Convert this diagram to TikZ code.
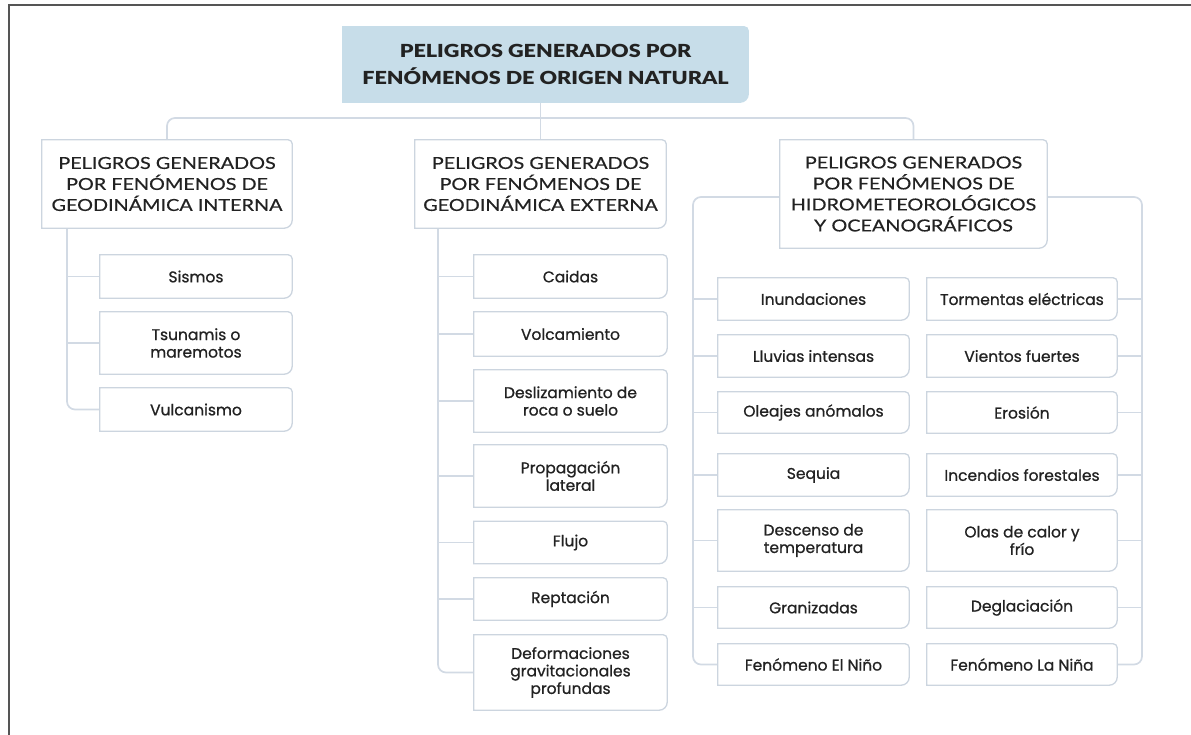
\documentclass[tikz,border=0pt]{standalone}
\usepackage{fontspec}
\setmainfont{Poppins}[FakeBold=0.8]
\newfontfamily\headfont{Lato}[FakeStretch=1.2,FakeBold=0.5]
\newfontfamily\titlefont{Lato Black}[FakeStretch=1.2]
\usetikzlibrary{backgrounds}
\definecolor{bordercol}{RGB}{204,213,223}
\definecolor{linecol}{RGB}{210,218,228}
\definecolor{titlefill}{RGB}{199,221,233}
\definecolor{txtcol}{RGB}{34,34,34}
\definecolor{framecol}{RGB}{85,85,85}
\newcommand\mybframe[3]{%
  \filldraw[draw=#2, fill=#1, line width=1.3pt] (#3.north west) -- ([xshift=-4pt]#3.north east)
    arc[start angle=90,end angle=0,radius=4pt] -- ([yshift=8pt]#3.south east)
    arc[start angle=0,end angle=-90,radius=8pt] -- (#3.south west) -- cycle;}
\begin{document}
\begin{tikzpicture}[x=1pt,y=-1pt,
  ttl/.style={inner sep=0pt, align=center, text=txtcol, font=\titlefont\fontsize{18}{27}\selectfont},
  head/.style={inner sep=0pt, align=center, text=txtcol, font=\headfont\fontsize{16.5}{21}\selectfont},
  leaf/.style={inner sep=0pt, align=center, text=txtcol, font=\fontsize{15.5}{17.5}\selectfont},
  conn/.style={draw=linecol, line width=1.7pt, rounded corners=8pt}]
\useasboundingbox (0,0) rectangle (1191,735);
\draw[framecol, line width=2pt] (9,735) -- (9,5.5) -- (1191,5.5);

% title and level 2
\node[ttl, minimum width=405, minimum height=75] (title) at (545.5,64.5) {PELIGROS GENERADOS POR\\FENÓMENOS DE ORIGEN NATURAL};
\node[head, minimum width=250, minimum height=88] (gi) at (167,184) {PELIGROS GENERADOS\\POR FENÓMENOS DE\\GEODINÁMICA INTERNA};
\node[head, minimum width=251, minimum height=88] (ge) at (540.5,184) {PELIGROS GENERADOS\\POR FENÓMENOS DE\\GEODINÁMICA EXTERNA};
\node[head, minimum width=267, minimum height=108] (ho) at (913.5,194) {PELIGROS GENERADOS\\POR FENÓMENOS DE\\HIDROMETEOROLÓGICOS\\Y OCEANOGRÁFICOS};

% left leaves
\node[leaf, minimum width=192, minimum height=43] (sis) at (196,276.5) {Sismos};
\node[leaf, minimum width=192, minimum height=62] (tsu) at (196,343) {Tsunamis o\\maremotos};
\node[leaf, minimum width=192, minimum height=43] (vul) at (196,409.5) {Vulcanismo};

% middle leaves
\node[leaf, minimum width=193, minimum height=43] (cai) at (570.5,276.5) {Caidas};
\node[leaf, minimum width=193, minimum height=44] (vol) at (570.5,334) {Volcamiento};
\node[leaf, minimum width=193, minimum height=62] (des) at (570.5,401) {Deslizamiento de\\roca o suelo};
\node[leaf, minimum width=193, minimum height=62] (pro) at (570.5,476) {Propagación\\lateral};
\node[leaf, minimum width=193, minimum height=42] (flu) at (570.5,542.5) {Flujo};
\node[leaf, minimum width=193, minimum height=42] (rep) at (570.5,599) {Reptación};
\node[leaf, minimum width=193, minimum height=75] (def) at (570.5,672.5) {Deformaciones\\gravitacionales\\profundas};

% right leaves
\node[leaf, minimum width=191, minimum height=42] (inu) at (813.5,299) {Inundaciones};
\node[leaf, minimum width=191, minimum height=42] (llu) at (813.5,356) {Lluvias intensas};
\node[leaf, minimum width=191, minimum height=41] (ole) at (813.5,412.5) {Oleajes anómalos};
\node[leaf, minimum width=191, minimum height=42] (seq) at (813.5,475) {Sequia};
\node[leaf, minimum width=191, minimum height=61] (dte) at (813.5,540.5) {Descenso de\\temperatura};
\node[leaf, minimum width=191, minimum height=41] (gra) at (813.5,607.5) {Granizadas};
\node[leaf, minimum width=191, minimum height=41] (nino) at (813.5,664.5) {Fenómeno El Niño};
\node[leaf, minimum width=190, minimum height=42] (tor) at (1022,299) {Tormentas eléctricas};
\node[leaf, minimum width=190, minimum height=42] (vie) at (1022,356) {Vientos fuertes};
\node[leaf, minimum width=190, minimum height=41] (ero) at (1022,412.5) {Erosión};
\node[leaf, minimum width=190, minimum height=42] (inc) at (1022,475) {Incendios forestales};
\node[leaf, minimum width=190, minimum height=61] (ola) at (1022,540.5) {Olas de calor y\\frío};
\node[leaf, minimum width=190, minimum height=41] (degl) at (1022,607.5) {Deglaciación};
\node[leaf, minimum width=190, minimum height=41] (nina) at (1022,664.5) {Fenómeno La Niña};

\coordinate (bus) at (0,118);
\coordinate (ltx) at (67,0);
\coordinate (mtx) at (438,0);
\coordinate (by) at (0,197);
\coordinate (rlx) at (693,0);
\coordinate (rrx) at (1142,0);

\begin{pgfonlayer}{background}
  % connectors
  \draw[conn] (title.south -| ge.north) -- (ge.north);
  \draw[conn] (gi.north) -- (gi.north |- bus) -- (ho.north |- bus) -- (ho.north);
  \draw[conn] (gi.south -| ltx) |- (vul.west);
  \foreach \n in {sis,tsu} \draw[conn] (\n.west -| ltx) -- (\n.west);
  \draw[conn] (ge.south -| mtx) |- (def.west);
  \foreach \n in {cai,vol,des,pro,flu,rep} \draw[conn] (\n.west -| mtx) -- (\n.west);
  \draw[conn] (ho.west |- by) -- (rlx |- by) |- (nino.west);
  \draw[conn] (ho.east |- by) -- (rrx |- by) |- (nina.east);
  \foreach \n in {inu,llu,ole,seq,dte,gra} \draw[conn] (\n.west -| rlx) -- (\n.west);
  \foreach \n in {tor,vie,ero,inc,ola,degl} \draw[conn] (\n.east) -- (\n.east -| rrx);
  % frames
  \mybframe{titlefill}{titlefill}{title}
  \foreach \n in {gi,ge,ho,sis,tsu,vul,cai,vol,des,pro,flu,rep,def,inu,llu,ole,seq,dte,gra,nino,tor,vie,ero,inc,ola,degl,nina}
    {\mybframe{white}{bordercol}{\n}}
\end{pgfonlayer}
\end{tikzpicture}
\end{document}
